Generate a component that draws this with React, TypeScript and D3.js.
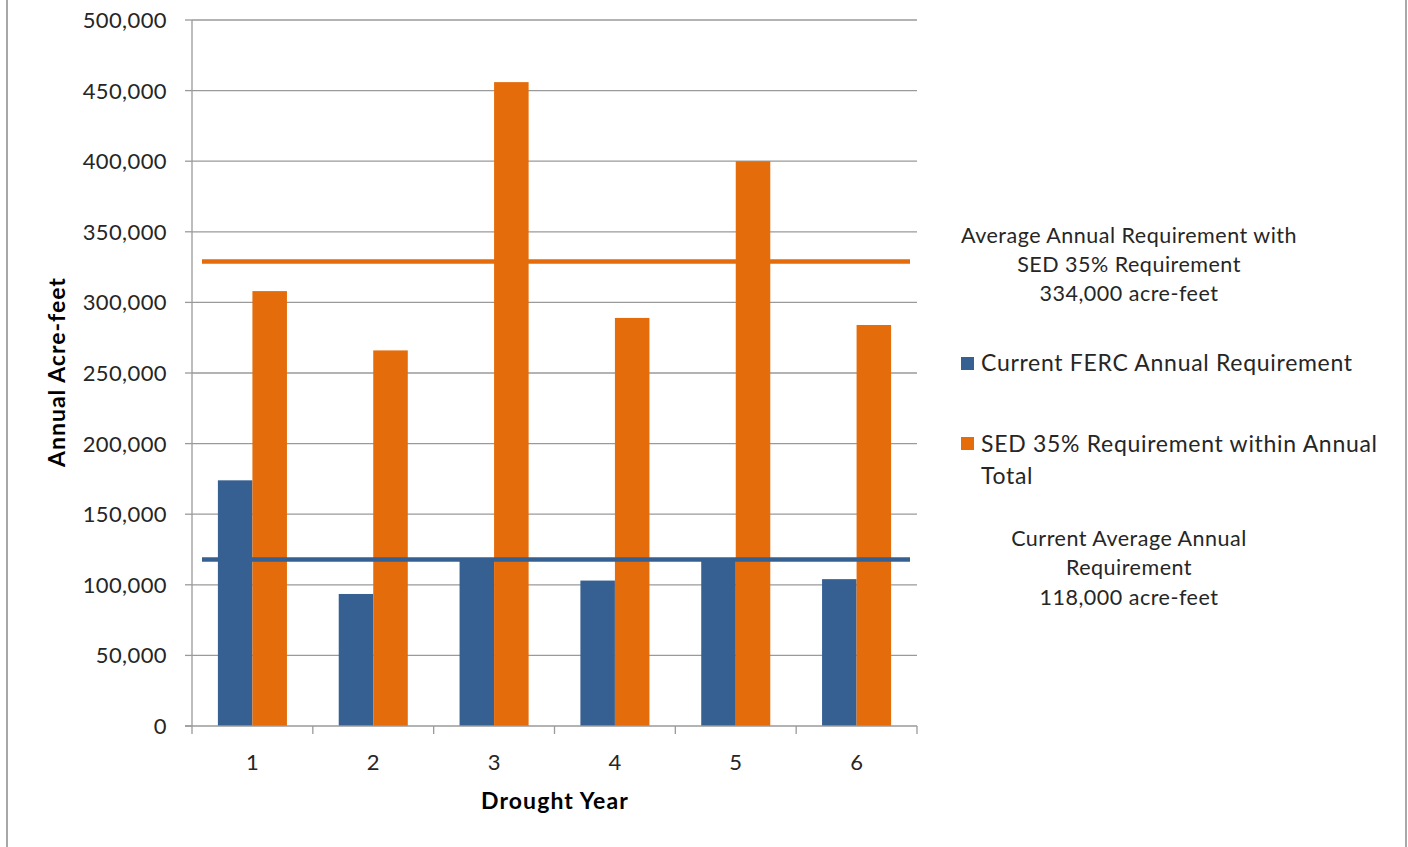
import React from "react";
import * as d3 from "d3";

const categories = ["1", "2", "3", "4", "5", "6"];
const fercValues = [174000, 93500, 117000, 103000, 117000, 104000];
const sedValues = [308000, 266000, 456000, 289000, 400000, 284000];
const fercAverage = 118000;
const sedAverage = 329000;
const yTicks = [0, 50000, 100000, 150000, 200000, 250000, 300000, 350000, 400000, 450000, 500000];
const seriesNames = ["Current FERC Annual Requirement", "SED 35% Requirement within Annual Total"];

const W = 1408;
const H = 847;
const BLUE = "#376092";
const ORANGE = "#e46c0a";
const GRID = "#9a9a9a";
const FONT = "Lato, 'Open Sans', sans-serif";
const TEXT = "#262626";

export default function App() {
  const left = 192, right = 917, top = 20, bottom = 726;
  const x = d3.scaleBand<string>().domain(categories).range([left, right]).paddingInner(0).paddingOuter(0);
  const y = d3.scaleLinear().domain([0, 500000]).range([bottom, top]);
  const bw = x.bandwidth();
  const barW = bw / 3.5;
  const gap = (bw - 2 * barW) / 2;
  const lineX0 = 202, lineX1 = 910;

  return (
    <svg width={W} height={H} style={{ position: "absolute", left: 0, top: 0, background: "#fff" }} fontFamily={FONT}>
      <rect x={0} y={0} width={W} height={H} fill="#fff" />
      <rect x={7} y={-5} width={1399} height={H + 10} fill="none" stroke="#8c8c8c" strokeWidth={1.5} />
      {/* gridlines */}
      {yTicks.map((t) => (
        <g key={t}>
          {t > 0 && <line x1={left} x2={right} y1={y(t)} y2={y(t)} stroke={GRID} strokeWidth={1.3} />}
          <line x1={185} x2={left} y1={y(t)} y2={y(t)} stroke={GRID} strokeWidth={1.3} />
          <text x={167} y={y(t)} dy="0.36em" textAnchor="end" fontSize={22} letterSpacing={0.4} fill={TEXT}>
            {d3.format(",")(t)}
          </text>
        </g>
      ))}
      {/* bars */}
      {categories.map((c, i) => (
        <g key={c}>
          <rect x={(x(c) as number) + gap} y={y(fercValues[i])} width={barW} height={bottom - y(fercValues[i])} fill={BLUE} />
          <rect x={(x(c) as number) + gap + barW} y={y(sedValues[i])} width={barW} height={bottom - y(sedValues[i])} fill={ORANGE} />
          <text x={(x(c) as number) + bw / 2} y={762} dy="0.36em" textAnchor="middle" fontSize={22} fill={TEXT}>
            {c}
          </text>
        </g>
      ))}
      {/* axes */}
      <line x1={left} x2={left} y1={top} y2={bottom + 8} stroke={GRID} strokeWidth={1.3} />
      <line x1={185} x2={right} y1={bottom} y2={bottom} stroke={GRID} strokeWidth={1.3} />
      {categories.map((c) => (
        <line key={"t" + c} x1={(x(c) as number) + bw} x2={(x(c) as number) + bw} y1={bottom} y2={bottom + 8} stroke={GRID} strokeWidth={1.3} />
      ))}
      {/* average lines */}
      <line x1={lineX0} x2={lineX1} y1={y(sedAverage)} y2={y(sedAverage)} stroke={ORANGE} strokeWidth={4.5} />
      <line x1={lineX0} x2={lineX1} y1={y(fercAverage)} y2={y(fercAverage)} stroke={BLUE} strokeWidth={4.5} />
      {/* axis titles */}
      <text x={555} y={801} dy="0.36em" textAnchor="middle" fontSize={23} letterSpacing={1.1} fontWeight="bold" fill="#000">
        Drought Year
      </text>
      <text transform={`translate(57,372) rotate(-90)`} dy="0.36em" textAnchor="middle" fontSize={23} letterSpacing={1.0} fontWeight="bold" fill="#000">
        Annual Acre-feet
      </text>
      {/* annotations */}
      <g fontSize={21.5} letterSpacing={0.5} fill={TEXT} textAnchor="middle">
        <text x={1129} y={235} dy="0.36em">Average Annual Requirement with</text>
        <text x={1129} y={264} dy="0.36em">SED 35% Requirement</text>
        <text x={1129} y={293} dy="0.36em">{d3.format(",")(334000)} acre-feet</text>
        <text x={1129} y={538} dy="0.36em">Current Average Annual</text>
        <text x={1129} y={567} dy="0.36em">Requirement</text>
        <text x={1129} y={597} dy="0.36em">{d3.format(",")(fercAverage)} acre-feet</text>
      </g>
      {/* legend */}
      <g fontSize={23} letterSpacing={0.7} fill={TEXT}>
        <rect x={961} y={357} width={13} height={13} fill={BLUE} />
        <text x={981} y={363} dy="0.36em">{seriesNames[0]}</text>
        <rect x={961} y={437} width={13} height={13} fill={ORANGE} />
        <text x={981} y={444} dy="0.36em">SED 35% Requirement within Annual</text>
        <text x={981} y={476} dy="0.36em">Total</text>
      </g>
    </svg>
  );
}
